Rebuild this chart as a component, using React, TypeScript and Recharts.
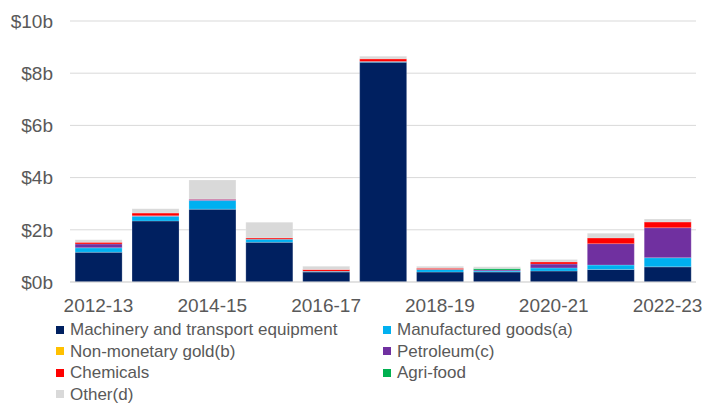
import { Bar, BarChart, CartesianGrid, XAxis, YAxis } from "recharts";

const categories = [
  "2012-13",
  "2013-14",
  "2014-15",
  "2015-16",
  "2016-17",
  "2017-18",
  "2018-19",
  "2019-20",
  "2020-21",
  "2021-22",
  "2022-23",
];

// values in $ billions
const machinery = [1.14, 2.34, 2.79, 1.52, 0.38, 8.42, 0.38, 0.38, 0.42, 0.48, 0.58];
const manufactured = [0.17, 0.18, 0.33, 0.12, 0.03, 0.03, 0.1, 0.04, 0.12, 0.17, 0.35];
const gold = [0, 0, 0, 0, 0, 0, 0, 0, 0, 0, 0];
const petroleum = [0.15, 0.02, 0.05, 0, 0, 0, 0, 0.04, 0.15, 0.82, 1.15];
const chemicals = [0.06, 0.1, 0.01, 0.05, 0.07, 0.1, 0.05, 0, 0.08, 0.22, 0.22];
const agriFood = [0, 0, 0, 0, 0, 0, 0, 0.06, 0, 0, 0];
const other = [0.1, 0.17, 0.73, 0.6, 0.12, 0.1, 0.07, 0.06, 0.09, 0.18, 0.11];

const yTicks = [0, 2, 4, 6, 8, 10];

const SERIES = [
  { key: "machinery", name: "Machinery and transport equipment", color: "#002060", values: machinery },
  { key: "manufactured", name: "Manufactured goods(a)", color: "#00B0F0", values: manufactured },
  { key: "gold", name: "Non-monetary gold(b)", color: "#FFC000", values: gold },
  { key: "petroleum", name: "Petroleum(c)", color: "#7030A0", values: petroleum },
  { key: "chemicals", name: "Chemicals", color: "#FF0000", values: chemicals },
  { key: "agriFood", name: "Agri-food", color: "#00B050", values: agriFood },
  { key: "other", name: "Other(d)", color: "#D9D9D9", values: other },
];

const data = categories.map((year, i) => {
  const row: Record<string, string | number> = { year };
  SERIES.forEach((s) => {
    row[s.key] = s.values[i];
  });
  return row;
});

const FONT = "'Liberation Sans', Arial, sans-serif";
const TEXT = "#595959";

export default function App() {
  return (
    <div
      style={{
        position: "absolute",
        left: 0,
        top: 0,
        width: 704,
        height: 403,
        background: "#fff",
        fontFamily: FONT,
        overflow: "hidden",
      }}
    >
      <BarChart
        width={704}
        height={322}
        data={data}
        margin={{ top: 21, right: 8, left: 0, bottom: 0 }}
        barCategoryGap="9%"
      >
        <CartesianGrid vertical={false} stroke="#d9d9d9" />
        <XAxis
          dataKey="year"
          interval={1}
          height={40}
          tickSize={0}
          tickMargin={17}
          axisLine={{ stroke: "#d9d9d9" }}
          tick={{ fill: TEXT, fontSize: 19, fontFamily: FONT }}
        />
        <YAxis
          domain={[0, 10]}
          ticks={yTicks}
          width={70}
          tickSize={0}
          tickMargin={17}
          axisLine={false}
          tickFormatter={(v) => `$${v}b`}
          tick={{ fill: TEXT, fontSize: 19, fontFamily: FONT }}
        />
        {SERIES.map((s) => (
          <Bar
            key={s.key}
            dataKey={s.key}
            name={s.name}
            stackId="a"
            fill={s.color}
            stroke="#ffffff"
            strokeOpacity={0.35}
            strokeWidth={0.6}
            isAnimationActive={false}
          />
        ))}
      </BarChart>
      <div
        style={{
          position: "absolute",
          left: 56,
          top: 319,
          display: "grid",
          gridTemplateColumns: "327px 300px",
          gridAutoRows: "21.5px",
          fontSize: 17,
          lineHeight: "17px",
          color: TEXT,
        }}
      >
        {SERIES.map((s) => (
          <div key={s.key} style={{ display: "flex", alignItems: "center", whiteSpace: "nowrap" }}>
            <span
              style={{
                display: "inline-block",
                width: 8,
                height: 8,
                background: s.color,
                marginRight: 6,
              }}
            />
            {s.name}
          </div>
        ))}
      </div>
    </div>
  );
}
